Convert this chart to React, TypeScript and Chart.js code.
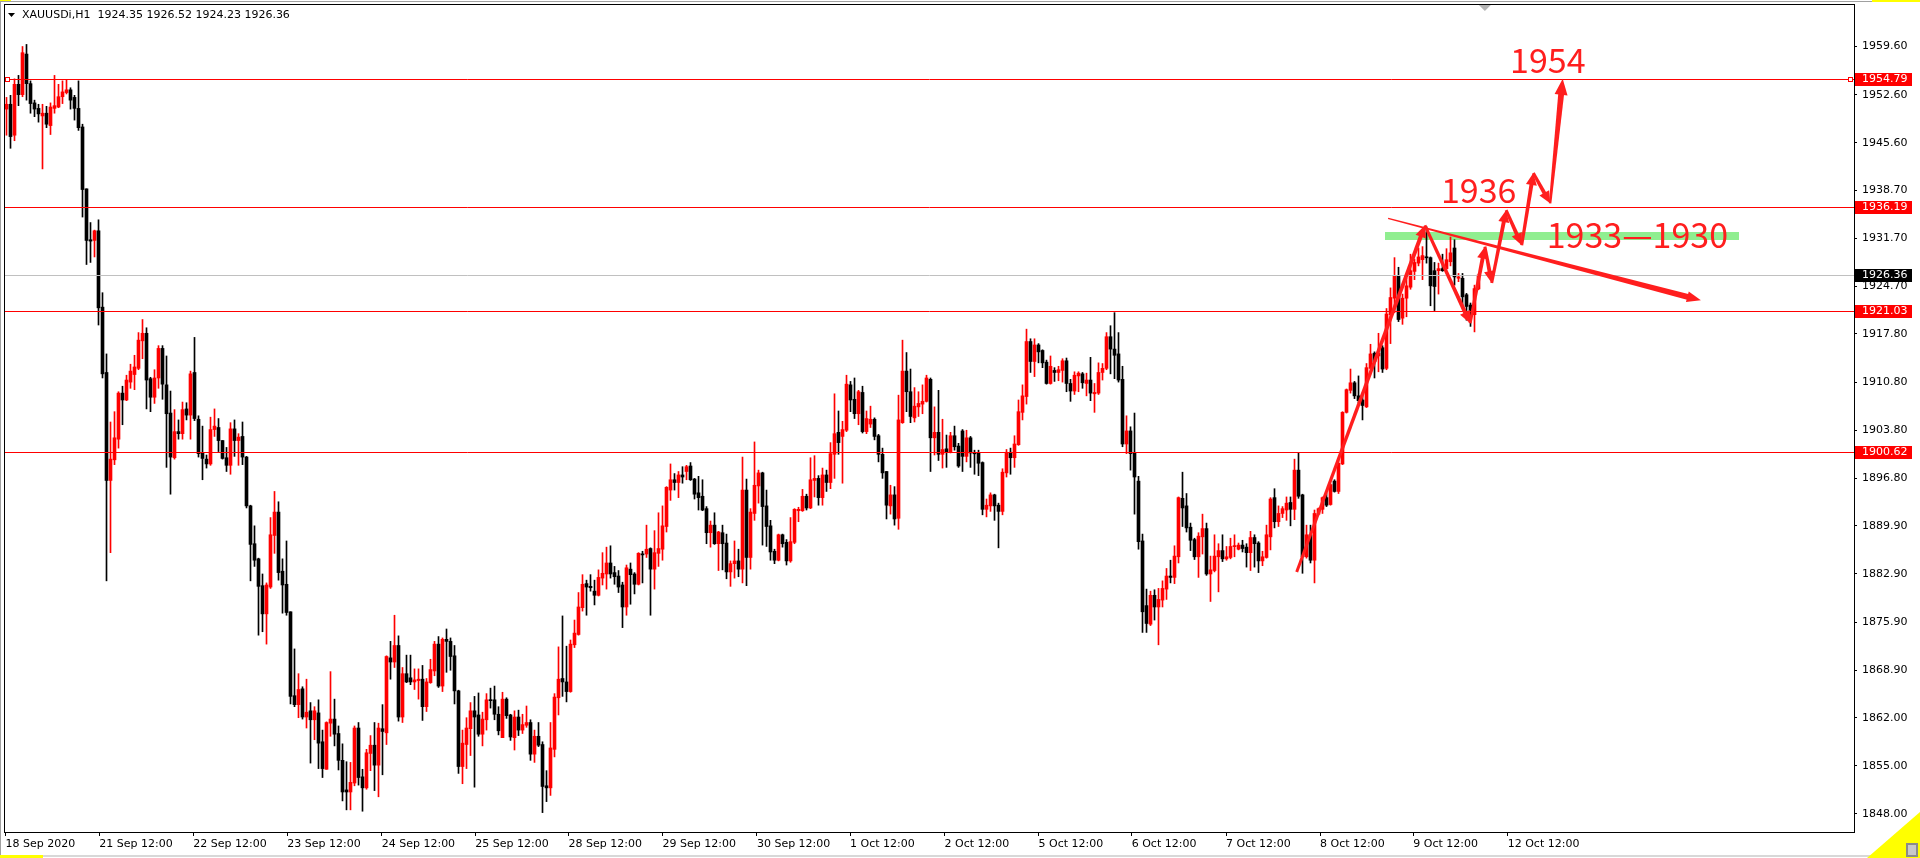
import React, { useEffect, useRef } from "react";
import { Chart, registerables } from "chart.js";
Chart.register(...registerables);

// ---- XAUUSDi H1 candles ----
const opens = [
  1950.5,1951.2,1946.7,1954.1,1952.6,1958.5,1954.2,1951.4,1950.6,1949.5,
  1949.9,1948.1,1950.6,1950.8,1952.3,1952.9,1953.3,1952.2,1950.6,1947.9,
  1938.9,1931.5,1931.4,1932.8,1921.7,1912.2,1896.5,1899.5,1902.5,1909.2,
  1908.2,1910.8,1911.9,1912.8,1916.8,1917.9,1911.3,1908.6,1911.4,1915.7,
  1910.4,1906.3,1899.8,1903.6,1903.3,1906.9,1906.0,1912.2,1905.4,1900.5,
  1899.6,1898.9,1903.9,1904.2,1902.3,1899.8,1898.7,1904.0,1902.3,1902.9,
  1899.9,1892.8,1887.3,1885.1,1881.2,1877.1,1881.0,1888.5,1891.9,1883.3,
  1881.4,1877.4,1865.2,1863.9,1866.2,1862.1,1863.0,1861.7,1862.7,1858.5,
  1854.5,1861.2,1861.8,1859.7,1855.8,1851.5,1851.2,1852.5,1860.5,1853.4,
  1851.8,1856.8,1858.0,1855.1,1860.4,1859.8,1870.7,1870.1,1872.5,1862.1,
  1868.4,1867.8,1867.2,1867.4,1867.6,1863.6,1867.1,1868.8,1872.7,1866.6,
  1873.4,1873.1,1871.0,1865.9,1854.9,1858.1,1860.4,1863.0,1862.4,1859.6,
  1861.7,1864.6,1864.6,1862.5,1859.1,1864.7,1862.4,1859.1,1862.1,1860.2,
  1860.9,1861.3,1856.7,1859.3,1858.1,1852.1,1851.8,1857.4,1864.9,1867.7,
  1867.2,1865.8,1872.6,1874.1,1878.0,1881.5,1881.1,1880.4,1879.8,1882.3,
  1882.9,1884.5,1883.1,1882.6,1881.3,1878.1,1883.6,1882.9,1881.4,1885.8,
  1885.8,1886.6,1883.6,1885.9,1886.5,1889.8,1895.1,1896.6,1896.2,1897.3,
  1897.8,1898.6,1896.7,1894.7,1894.2,1892.4,1888.9,1890.0,1887.3,1888.9,
  1887.4,1883.2,1884.4,1884.8,1883.6,1895.1,1885.3,1891.7,1895.7,1897.6,
  1892.8,1889.9,1886.2,1884.9,1888.6,1887.5,1884.8,1887.5,1892.1,1892.1,
  1894.2,1892.5,1896.5,1896.8,1894.0,1897.3,1896.2,1900.3,1903.5,1902.9,
  1903.8,1910.4,1908.3,1906.2,1909.3,1903.6,1904.7,1905.4,1903.0,1900.3,
  1897.8,1892.8,1894.4,1891.0,1904.9,1912.4,1909.4,1905.6,1907.2,1907.6,
  1908.0,1911.2,1902.7,1903.5,1900.3,1901.1,1900.6,1903.0,1901.5,1903.7,
  1900.0,1902.7,1900.5,1900.5,1899.1,1892.3,1892.8,1894.4,1892.9,1892.0,
  1897.6,1900.6,1899.8,1901.7,1906.4,1908.7,1916.7,1913.8,1916.2,1915.4,
  1913.7,1910.6,1912.5,1912.2,1912.5,1913.9,1910.6,1909.5,1911.7,1912.0,
  1910.6,1911.1,1909.1,1909.2,1912.2,1912.8,1917.4,1915.6,1914.9,1911.2,
  1901.8,1903.7,1900.5,1896.4,1887.7,1878.3,1875.6,1879.8,1878.1,1879.1,
  1880.7,1882.6,1882.4,1885.4,1893.9,1892.8,1889.7,1887.9,1885.4,1888.3,
  1889.5,1882.9,1883.4,1885.4,1886.3,1885.1,1885.3,1886.9,1886.5,1887.1,
  1886.8,1886.0,1888.2,1887.4,1884.8,1885.3,1888.3,1894.0,1890.5,1891.7,
  1892.2,1893.3,1892.3,1898.0,1894.4,1885.4,1888.6,1884.9,1891.6,1892.3,
  1894.0,1893.0,1896.4,1894.9,1898.9,1906.4,1909.6,1910.7,1908.8,1908.2,
  1907.2,1912.8,1915.0,1914.6,1915.8,1912.8,1920.6,1923.0,1926.2,1920.1,
  1923.0,1924.6,1926.9,1928.1,1928.6,1929.0,1928.9,1927.0,1927.0,1927.3,
  1927.3,1928.3,1930.3,1925.9,1925.9,1923.5,1922.0,1920.6,1924.35,
];
const highs = [
  1952.2,1952.5,1954.9,1955.4,1959.6,1959.9,1954.6,1951.8,1951.2,1951.2,
  1950.9,1951.4,1955.4,1954.1,1954.6,1954.7,1953.6,1952.5,1954.6,1948.3,
  1938.9,1934.0,1932.9,1934.4,1923.8,1914.9,1905.0,1906.5,1909.4,1910.2,
  1911.8,1913.4,1914.7,1918.0,1919.9,1918.7,1911.5,1912.6,1916.1,1916.1,
  1914.6,1909.5,1906.8,1905.3,1907.9,1907.8,1912.4,1917.3,1905.9,1904.4,
  1900.2,1905.7,1906.9,1905.5,1902.3,1901.3,1904.9,1905.3,1903.3,1905.0,
  1900.0,1892.9,1889.9,1885.2,1882.9,1881.6,1891.1,1894.9,1893.4,1885.1,
  1887.7,1877.4,1872.0,1868.4,1866.5,1867.6,1864.2,1863.6,1864.6,1860.2,
  1861.4,1868.7,1864.7,1860.8,1858.2,1855.6,1855.5,1860.8,1861.3,1854.5,
  1857.4,1859.4,1861.3,1861.2,1863.9,1871.0,1873.1,1876.9,1873.9,1869.3,
  1871.1,1871.1,1869.1,1869.1,1869.6,1867.7,1870.5,1873.1,1873.8,1873.6,
  1874.9,1873.6,1872.5,1866.0,1860.2,1862.0,1864.2,1865.1,1865.6,1862.8,
  1865.5,1866.3,1866.6,1863.6,1865.7,1864.9,1862.5,1863.0,1863.1,1862.5,
  1863.7,1861.7,1860.2,1861.3,1858.5,1854.3,1861.3,1865.5,1872.3,1876.8,
  1872.4,1873.3,1876.2,1880.2,1882.8,1882.0,1882.8,1882.0,1883.5,1886.0,
  1886.8,1887.0,1884.0,1883.4,1881.7,1884.2,1884.5,1883.1,1886.0,1886.2,
  1890.0,1886.7,1889.2,1891.8,1892.8,1895.6,1898.9,1897.5,1897.8,1898.5,
  1898.7,1899.1,1896.8,1897.1,1896.6,1892.7,1890.6,1891.8,1889.1,1890.0,
  1888.7,1884.8,1887.7,1886.5,1899.9,1896.7,1892.4,1902.1,1898.0,1897.7,
  1895.1,1890.7,1886.5,1888.7,1888.7,1887.9,1891.1,1892.4,1892.6,1895.2,
  1894.5,1899.8,1900.1,1897.2,1898.3,1898.0,1902.0,1909.1,1906.6,1905.1,
  1911.8,1910.9,1911.4,1909.6,1910.2,1906.6,1907.3,1905.6,1903.2,1901.2,
  1897.8,1895.8,1895.6,1908.9,1916.9,1915.1,1912.7,1910.0,1909.4,1910.4,
  1911.8,1911.4,1907.2,1909.6,1905.4,1903.1,1903.5,1904.4,1901.9,1903.9,
  1903.8,1902.9,1900.9,1900.9,1899.2,1893.8,1894.7,1894.5,1893.2,1898.2,
  1901.0,1901.2,1903.0,1908.2,1910.4,1918.5,1917.1,1917.1,1916.4,1915.5,
  1914.0,1914.6,1912.9,1913.1,1914.2,1914.3,1911.2,1912.3,1912.3,1912.2,
  1912.1,1914.4,1910.6,1913.6,1913.5,1918.0,1919.0,1920.9,1918.0,1913.1,
  1905.9,1904.3,1906.3,1897.1,1888.7,1880.7,1880.4,1880.6,1880.8,1881.9,
  1883.7,1884.9,1887.0,1894.1,1897.7,1894.6,1890.3,1888.1,1888.9,1891.6,
  1890.3,1885.5,1888.6,1887.3,1888.6,1886.9,1888.1,1888.6,1887.4,1887.8,
  1887.3,1889.1,1888.6,1887.6,1886.2,1890.0,1894.0,1895.3,1892.8,1892.7,
  1894.1,1894.1,1899.6,1900.5,1894.5,1890.0,1890.0,1892.2,1892.5,1894.1,
  1894.6,1896.0,1896.6,1899.7,1906.5,1909.8,1912.7,1910.9,1911.7,1909.2,
  1913.5,1916.3,1915.2,1917.9,1916.1,1921.5,1924.5,1928.9,1927.5,1923.6,
  1925.9,1929.4,1928.7,1930.3,1930.5,1933.4,1929.0,1928.2,1928.1,1929.4,
  1930.2,1931.9,1931.5,1926.6,1926.6,1923.7,1922.3,1924.9,1926.52,
];
const lows = [
  1946.7,1944.8,1945.9,1951.0,1952.3,1951.8,1949.9,1949.4,1948.6,1941.8,
  1947.8,1946.8,1949.9,1950.7,1951.3,1952.7,1950.5,1948.9,1947.4,1934.8,
  1927.9,1928.2,1929.0,1919.1,1911.4,1881.9,1886.0,1898.8,1901.2,1904.6,
  1908.1,1909.9,1909.7,1912.6,1914.2,1906.9,1906.5,1907.7,1909.9,1908.3,
  1898.4,1894.5,1899.6,1902.5,1902.5,1905.3,1902.5,1905.2,1899.9,1896.6,
  1898.3,1898.7,1902.9,1900.7,1899.6,1897.8,1897.4,1900.0,1898.7,1898.8,
  1892.5,1881.9,1884.0,1874.0,1874.5,1872.7,1880.8,1885.9,1882.0,1877.2,
  1876.9,1864.0,1863.6,1862.0,1861.8,1860.5,1855.4,1858.8,1854.6,1853.3,
  1854.5,1859.3,1857.9,1854.4,1849.9,1848.6,1848.6,1852.1,1852.2,1848.4,
  1851.6,1854.3,1851.4,1850.5,1853.7,1858.1,1867.6,1869.3,1861.5,1861.3,
  1867.1,1866.8,1866.1,1864.7,1861.6,1862.9,1867.0,1868.1,1866.4,1865.8,
  1868.6,1868.9,1864.0,1853.9,1852.4,1854.6,1856.5,1851.9,1859.3,1857.9,
  1860.2,1863.4,1861.7,1859.5,1859.1,1861.9,1858.7,1857.3,1859.4,1859.7,
  1860.6,1855.8,1855.5,1857.8,1848.2,1849.8,1850.7,1856.3,1862.4,1865.1,
  1864.3,1865.7,1872.2,1874.0,1877.5,1876.9,1880.4,1878.4,1879.7,1881.3,
  1880.7,1882.3,1881.4,1880.2,1875.1,1876.9,1878.5,1880.0,1881.3,1881.6,
  1885.3,1876.9,1880.7,1884.0,1884.9,1889.0,1893.6,1895.1,1894.0,1896.1,
  1896.6,1896.5,1893.8,1892.2,1892.1,1887.3,1886.8,1887.2,1883.4,1883.5,
  1882.2,1881.1,1882.3,1882.5,1881.6,1881.2,1883.6,1890.7,1893.2,1887.1,
  1886.9,1884.9,1884.4,1884.8,1886.8,1884.2,1884.6,1887.3,1890.5,1892.0,
  1892.2,1892.4,1894.1,1892.9,1892.9,1894.9,1895.3,1896.8,1900.3,1896.1,
  1903.6,1906.5,1905.5,1904.6,1903.4,1903.3,1904.2,1902.4,1899.2,1896.8,
  1890.9,1891.6,1890.0,1889.4,1904.8,1906.5,1904.9,1905.0,1905.8,1906.2,
  1907.9,1897.8,1900.2,1899.4,1898.3,1898.4,1900.5,1900.9,1898.4,1897.8,
  1899.2,1898.4,1897.4,1897.2,1891.5,1891.2,1892.0,1890.7,1886.7,1891.5,
  1897.0,1897.4,1898.4,1901.6,1905.3,1907.6,1912.2,1911.6,1913.6,1912.9,
  1910.5,1910.5,1910.9,1911.0,1910.8,1909.4,1908.0,1909.0,1909.4,1909.9,
  1908.8,1908.1,1906.4,1909.0,1911.1,1912.6,1912.0,1911.3,1910.8,1901.4,
  1900.4,1898.0,1891.6,1886.5,1874.4,1874.4,1875.4,1876.2,1872.6,1878.1,
  1879.2,1881.6,1881.5,1884.5,1889.8,1889.0,1886.3,1885.0,1882.4,1885.8,
  1882.7,1878.9,1883.2,1880.3,1884.7,1884.9,1885.1,1885.4,1886.4,1886.1,
  1883.9,1883.4,1883.9,1883.1,1884.1,1885.2,1886.4,1889.6,1889.8,1891.1,
  1890.7,1889.9,1890.8,1893.9,1883.0,1885.2,1884.5,1881.6,1891.5,1891.7,
  1892.7,1892.9,1894.8,1894.6,1898.8,1906.3,1909.2,1908.4,1907.8,1905.3,
  1907.1,1912.7,1911.4,1912.3,1912.2,1912.6,1916.4,1920.9,1919.6,1919.2,
  1920.3,1924.3,1925.7,1927.7,1925.7,1928.1,1921.9,1921.2,1923.6,1926.9,
  1927.2,1927.7,1924.9,1925.4,1922.0,1919.8,1918.9,1918.1,1924.23,
];
const closes = [
  1951.2,1946.5,1954.1,1952.6,1958.7,1954.2,1951.3,1950.5,1949.8,1949.9,
  1948.3,1950.8,1951.0,1952.3,1953.0,1953.3,1951.8,1950.6,1947.8,1938.8,
  1931.4,1931.3,1932.8,1921.6,1912.0,1896.5,1899.6,1902.7,1909.2,1908.2,
  1911.1,1912.4,1913.0,1916.9,1917.9,1911.1,1908.6,1911.4,1915.7,1910.5,
  1906.2,1899.9,1903.6,1903.3,1906.8,1906.0,1912.0,1905.5,1900.4,1899.7,
  1898.9,1903.9,1904.4,1902.3,1899.7,1898.7,1904.0,1902.3,1902.8,1899.9,
  1892.8,1887.2,1884.9,1881.1,1877.1,1881.3,1888.6,1891.9,1883.1,1881.3,
  1877.3,1865.1,1863.9,1866.1,1862.1,1862.8,1861.7,1863.0,1858.3,1854.6,
  1861.3,1861.8,1859.6,1855.8,1851.2,1851.2,1852.6,1860.5,1853.3,1851.8,
  1856.9,1858.0,1855.1,1860.5,1860.0,1870.9,1870.1,1872.5,1862.1,1868.4,
  1867.2,1867.2,1867.5,1867.6,1863.6,1867.2,1869.0,1872.7,1866.6,1873.4,
  1873.1,1870.9,1865.9,1854.9,1858.3,1860.5,1863.0,1862.1,1859.6,1861.8,
  1864.6,1864.5,1862.5,1860.1,1864.7,1862.3,1859.2,1862.1,1860.2,1861.0,
  1861.3,1856.7,1859.3,1858.0,1852.0,1851.8,1857.6,1865.0,1867.6,1867.2,
  1865.8,1872.7,1874.3,1878.1,1881.4,1881.0,1880.9,1879.8,1882.4,1883.0,
  1884.5,1882.9,1882.5,1881.0,1878.1,1883.8,1882.8,1881.4,1885.9,1885.7,
  1886.5,1883.6,1886.0,1886.6,1889.9,1895.5,1896.6,1896.2,1897.3,1897.0,
  1898.5,1896.6,1894.5,1894.0,1892.2,1888.9,1890.0,1887.3,1889.0,1887.3,
  1883.2,1884.4,1884.8,1883.6,1895.1,1885.3,1891.9,1895.8,1897.6,1892.7,
  1889.8,1886.1,1884.9,1888.6,1887.3,1884.8,1887.6,1892.3,1892.3,1894.2,
  1892.5,1896.6,1896.8,1894.0,1897.3,1896.2,1900.4,1903.3,1902.0,1903.9,
  1910.5,1908.2,1906.2,1909.4,1903.6,1905.5,1905.4,1902.9,1900.3,1897.6,
  1892.9,1894.4,1890.9,1905.3,1912.4,1909.4,1905.8,1907.3,1907.7,1908.0,
  1911.4,1902.7,1903.5,1900.3,1901.0,1900.6,1903.0,1901.4,1898.6,1900.0,
  1902.7,1900.5,1900.4,1899.0,1892.3,1892.9,1894.4,1892.8,1892.0,1897.7,
  1900.6,1899.8,1901.8,1906.5,1908.8,1916.7,1913.8,1916.2,1915.2,1913.6,
  1910.6,1913.1,1912.2,1912.6,1913.9,1910.6,1909.5,1911.8,1912.1,1910.7,
  1911.1,1909.2,1909.3,1912.2,1912.8,1917.4,1915.6,1914.7,1911.1,1901.8,
  1903.7,1900.4,1897.0,1887.6,1877.4,1875.7,1879.8,1878.1,1879.2,1880.8,
  1882.6,1882.4,1885.5,1894.0,1892.5,1889.6,1887.8,1885.4,1888.4,1889.5,
  1882.9,1883.5,1885.5,1886.3,1885.1,1885.4,1886.9,1887.0,1887.1,1886.6,
  1886.0,1888.2,1887.3,1884.8,1885.4,1888.6,1893.8,1890.5,1891.7,1892.4,
  1893.2,1892.3,1898.0,1894.2,1885.4,1888.6,1884.9,1891.7,1892.4,1894.0,
  1892.9,1895.9,1894.9,1899.0,1906.4,1909.7,1910.7,1908.8,1908.1,1907.4,
  1912.9,1914.9,1913.8,1915.0,1912.7,1920.7,1923.1,1926.2,1919.9,1923.0,
  1924.8,1927.0,1928.2,1929.0,1929.2,1928.9,1924.8,1924.7,1927.3,1927.0,
  1928.6,1929.6,1926.1,1926.1,1923.2,1921.8,1920.6,1924.4,1926.36,
];

// ---- axes ----
const xTickPos = [-0.25, 23.2, 46.7, 70.2, 93.8, 117.2, 140.5, 164.0, 187.6, 210.9, 234.5, 258.0, 281.3, 304.9, 328.4, 351.7, 375.3];
const xTickLabels = [
  "18 Sep 2020", "21 Sep 12:00", "22 Sep 12:00", "23 Sep 12:00", "24 Sep 12:00", "25 Sep 12:00",
  "28 Sep 12:00", "29 Sep 12:00", "30 Sep 12:00", "1 Oct 12:00", "2 Oct 12:00", "5 Oct 12:00",
  "6 Oct 12:00", "7 Oct 12:00", "8 Oct 12:00", "9 Oct 12:00", "12 Oct 12:00",
];
const yTickValues = [1848.0, 1855.0, 1862.0, 1868.9, 1875.9, 1882.9, 1889.9, 1896.8, 1903.8, 1910.8, 1917.8, 1924.7, 1931.7, 1938.7, 1945.6, 1952.6, 1959.6];

// ---- objects ----
const levelPrices = [1954.79, 1936.19, 1921.03, 1900.62];
const currentPrice = 1926.36;
const headerText = "XAUUSDi,H1  1924.35 1926.52 1924.23 1926.36";
const zoneIdx = [344.6, 433.1];
const zonePrice = [1931.45, 1932.65];
const zigIdx = [322.55, 354.6, 365.9, 369.6, 371.3, 374.9, 378.8, 381.7, 385.9, 389.05];
const zigPrice = [1883.2, 1933.6, 1919.35, 1930.5, 1925.2, 1935.8, 1930.7, 1941.2, 1936.8, 1954.9];
const trendIdx = [345.4, 423.6];
const trendPrice = [1934.6, 1922.7];
const noteTexts = ["1954", "1936", "1933\u20141930"];
const noteIdx = [375.9, 358.6, 385.05];
const notePrice = [1955.7, 1936.9, 1930.26];

const X_MIN = -0.375, X_MAX = 461.875;
const Y_MIN = 1845.38, Y_MAX = 1965.635;
const UP = "#ff0000", DOWN = "#000000";
const ANNO = "#ff1e1e";
const FONT = "DejaVu Sans";

function arrowHead(ctx: CanvasRenderingContext2D, x1: number, y1: number, x2: number, y2: number, len: number, half: number) {
  const a = Math.atan2(y2 - y1, x2 - x1);
  const c = Math.cos(a), s = Math.sin(a);
  const bx = x2 - c * len, by = y2 - s * len;
  ctx.beginPath();
  ctx.moveTo(x2, y2);
  ctx.lineTo(bx - s * half, by + c * half);
  ctx.lineTo(bx + s * half, by - c * half);
  ctx.closePath();
  ctx.fill();
}

function taperedArrow(ctx: CanvasRenderingContext2D, x1: number, y1: number, x2: number, y2: number, w0: number, w1: number, len: number, half: number) {
  const a = Math.atan2(y2 - y1, x2 - x1);
  const c = Math.cos(a), s = Math.sin(a);
  const bx = x2 - c * len * 0.7, by = y2 - s * len * 0.7;
  ctx.beginPath();
  ctx.moveTo(x1 - s * w0 / 2, y1 + c * w0 / 2);
  ctx.lineTo(bx - s * w1 / 2, by + c * w1 / 2);
  ctx.lineTo(bx + s * w1 / 2, by - c * w1 / 2);
  ctx.lineTo(x1 + s * w0 / 2, y1 - c * w0 / 2);
  ctx.closePath();
  ctx.fill();
  arrowHead(ctx, x1, y1, x2, y2, len, half);
}

const overlayPlugin = {
  id: "mt4overlay",
  beforeDraw(chart: any) {
    const { ctx, width, height } = chart;
    ctx.save();
    ctx.fillStyle = "#ffffff";
    ctx.fillRect(0, 0, width, height);
    ctx.restore();
  },
  beforeDatasetsDraw(chart: any) {
    const { ctx, chartArea: a } = chart;
    const xs = chart.scales.x, ys = chart.scales.y;
    ctx.save();
    ctx.beginPath();
    ctx.rect(a.left, a.top, a.right - a.left, a.bottom - a.top);
    ctx.clip();
    const x0 = xs.getPixelForValue(zoneIdx[0]), x1 = xs.getPixelForValue(zoneIdx[1]);
    const y0 = ys.getPixelForValue(zonePrice[1]), y1 = ys.getPixelForValue(zonePrice[0]);
    ctx.fillStyle = "rgb(144,238,144)";
    ctx.fillRect(Math.round(x0), Math.round(y0), Math.round(x1 - x0), Math.round(y1 - y0));
    ctx.restore();
  },
  afterDatasetsDraw(chart: any) {
    const { ctx, chartArea: a } = chart;
    const xs = chart.scales.x, ys = chart.scales.y;
    ctx.save();
    ctx.beginPath();
    ctx.rect(a.left, a.top, a.right - a.left, a.bottom - a.top);
    ctx.clip();
    ctx.lineWidth = 1;
    const cy = Math.floor(ys.getPixelForValue(currentPrice)) + 0.5;
    ctx.strokeStyle = "#c0c0c0";
    ctx.beginPath(); ctx.moveTo(a.left, cy); ctx.lineTo(a.right, cy); ctx.stroke();
    ctx.strokeStyle = "#ff0000";
    levelPrices.forEach((p) => {
      const yy = Math.floor(ys.getPixelForValue(p)) + 0.5;
      ctx.beginPath(); ctx.moveTo(a.left, yy); ctx.lineTo(a.right, yy); ctx.stroke();
    });
    const ly = Math.floor(ys.getPixelForValue(levelPrices[0])) + 0.5;
    ctx.fillStyle = "#ffffff";
    ctx.fillRect(a.left + 1, ly - 2, 4, 4);
    ctx.strokeRect(a.left + 0.5, ly - 2, 4, 4);
    ctx.fillRect(a.right - 5, ly - 2, 4, 4);
    ctx.strokeRect(a.right - 5.5, ly - 2, 4, 4);

    ctx.fillStyle = ANNO;
    for (let i = 0; i < zigIdx.length - 1; i++) {
      const x1 = xs.getPixelForValue(zigIdx[i]), y1 = ys.getPixelForValue(zigPrice[i]);
      const x2 = xs.getPixelForValue(zigIdx[i + 1]), y2 = ys.getPixelForValue(zigPrice[i + 1]);
      const last = i === zigIdx.length - 2;
      taperedArrow(ctx, x1, y1, x2, y2, last ? 2.5 : 3, last ? 6 : 4, last ? 16 : 12, last ? 6.5 : 5.5);
    }
    {
      const x1 = xs.getPixelForValue(trendIdx[0]), y1 = ys.getPixelForValue(trendPrice[0]);
      const x2 = xs.getPixelForValue(trendIdx[1]), y2 = ys.getPixelForValue(trendPrice[1]);
      taperedArrow(ctx, x1, y1, x2, y2, 1.4, 6, 14, 5.5);
    }
    ctx.font = '34px "Noto Sans CJK SC"';
    ctx.textBaseline = "alphabetic";
    ctx.textAlign = "left";
    noteTexts.forEach((t, i) => {
      ctx.fillText(t, xs.getPixelForValue(noteIdx[i]), ys.getPixelForValue(notePrice[i]));
    });
    ctx.restore();
  },
  afterDraw(chart: any) {
    const { ctx, chartArea: a, width, height } = chart;
    const xs = chart.scales.x, ys = chart.scales.y;
    ctx.save();
    ctx.strokeStyle = "#000000";
    ctx.lineWidth = 1;
    ctx.strokeRect(a.left - 0.5, a.top - 0.5, a.right - a.left + 1, a.bottom - a.top + 1);
    ctx.fillStyle = "#a0a0a0";
    ctx.fillRect(0, 1, width, 1);
    ctx.fillRect(0, 0, 1, height);
    ctx.fillStyle = "#d8d8d8";
    ctx.fillRect(0, 855, width, 2);
    ctx.fillStyle = "#ffff00";
    ctx.fillRect(0, 0, 11, 1);
    ctx.fillRect(1872, 0, 48, 2);
    ctx.fillRect(0, 855, 43, 3);
    ctx.beginPath();
    ctx.moveTo(1867, height); ctx.lineTo(width, 812); ctx.lineTo(width, height); ctx.closePath();
    ctx.fill();
    ctx.fillStyle = "#8a8a8a";
    ctx.fillRect(1906, 843, 12, 14);
    ctx.fillStyle = "#c8c8c8";
    ctx.fillRect(1908, 845, 8, 10);

    const sx = xs.getPixelForValue(opens.length + 0.6);
    ctx.fillStyle = "#b4b4b4";
    ctx.beginPath();
    ctx.moveTo(sx - 6, a.top); ctx.lineTo(sx + 6, a.top); ctx.lineTo(sx, a.top + 6); ctx.closePath();
    ctx.fill();

    ctx.font = `11px "${FONT}"`;
    ctx.textBaseline = "middle";
    ctx.textAlign = "left";
    const box = (p: number, bg: string) => {
      const yy = Math.floor(ys.getPixelForValue(p));
      ctx.fillStyle = bg;
      ctx.fillRect(a.right + 1, yy - 6, 57, 13);
      ctx.fillStyle = "#ffffff";
      ctx.fillText(p.toFixed(2), a.right + 8, yy + 0.5);
    };
    levelPrices.forEach((p) => box(p, "#ff0000"));
    box(currentPrice, "#000000");

    ctx.fillStyle = "#000000";
    ctx.beginPath();
    ctx.moveTo(8, 13); ctx.lineTo(15, 13); ctx.lineTo(11.5, 17); ctx.closePath();
    ctx.fill();
    ctx.fillText(headerText, 22, 15);
    ctx.restore();
  },
};

export default function App() {
  const ref = useRef<HTMLCanvasElement | null>(null);
  useEffect(() => {
    document.body.style.margin = "0";
    const canvas = ref.current;
    if (!canvas) return;
    const idx = opens.map((_, i) => i);
    const colors = idx.map((i) => (closes[i] > opens[i] ? UP : DOWN));
    const wickData = idx.map((i) => ({
      x: i,
      y: [Math.min(lows[i], opens[i], closes[i]), Math.max(highs[i], opens[i], closes[i])],
    }));
    const bodyData = idx.map((i) => {
      let lo = Math.min(opens[i], closes[i]);
      let hi = Math.max(opens[i], closes[i]);
      if (hi - lo < 0.15) {
        const m = (hi + lo) / 2;
        lo = m - 0.075;
        hi = m + 0.075;
      }
      return { x: i, y: [lo, hi] };
    });
    const chart = new Chart(canvas, {
      type: "bar",
      data: {
        datasets: [
          { label: "wick", data: wickData as any, backgroundColor: colors, barThickness: 1, grouped: false, borderWidth: 0, order: 2 } as any,
          { label: "body", data: bodyData as any, backgroundColor: colors, barThickness: 3, grouped: false, borderWidth: 0, order: 1 } as any,
        ],
      },
      options: {
        animation: false,
        responsive: false,
        maintainAspectRatio: false,
        devicePixelRatio: 1,
        events: [],
        layout: { padding: { left: 5, top: 5, right: 0, bottom: 0 } },
        plugins: { legend: { display: false }, tooltip: { enabled: false } },
        scales: {
          x: {
            type: "linear",
            position: "bottom",
            min: X_MIN,
            max: X_MAX,
            offset: false,
            border: { display: false },
            grid: { drawOnChartArea: false, drawTicks: true, tickLength: 4, color: "#000", tickColor: "#000", lineWidth: 1, offset: false },
            ticks: {
              autoSkip: false,
              maxRotation: 0,
              minRotation: 0,
              align: "start",
              padding: 2,
              color: "#000",
              font: { family: FONT, size: 11 },
              callback: (_v: any, i: number) => xTickLabels[i],
            },
            afterBuildTicks: (scale: any) => {
              scale.ticks = xTickPos.map((v) => ({ value: v }));
            },
            afterFit: (scale: any) => {
              scale.height = 26;
              scale.paddingLeft = 0;
              scale.paddingRight = 0;
            },
          },
          y: {
            type: "linear",
            position: "right",
            min: Y_MIN,
            max: Y_MAX,
            border: { display: false },
            grid: { drawOnChartArea: false, drawTicks: true, tickLength: 3, color: "#000", tickColor: "#000", lineWidth: 1 },
            ticks: {
              autoSkip: false,
              padding: 5,
              color: "#000",
              font: { family: FONT, size: 11 },
              callback: (v: any) => Number(v).toFixed(2),
            },
            afterBuildTicks: (scale: any) => {
              scale.ticks = yTickValues.map((v) => ({ value: v }));
            },
            afterFit: (scale: any) => {
              scale.width = 66;
              scale.paddingTop = 0;
              scale.paddingBottom = 0;
            },
          },
        },
      } as any,
      plugins: [overlayPlugin as any],
    });
    return () => chart.destroy();
  }, []);
  return (
    <div style={{ position: "fixed", left: 0, top: 0, width: 1920, height: 858, background: "#fff" }}>
      <canvas ref={ref} width={1920} height={858} style={{ display: "block" }} />
    </div>
  );
}
